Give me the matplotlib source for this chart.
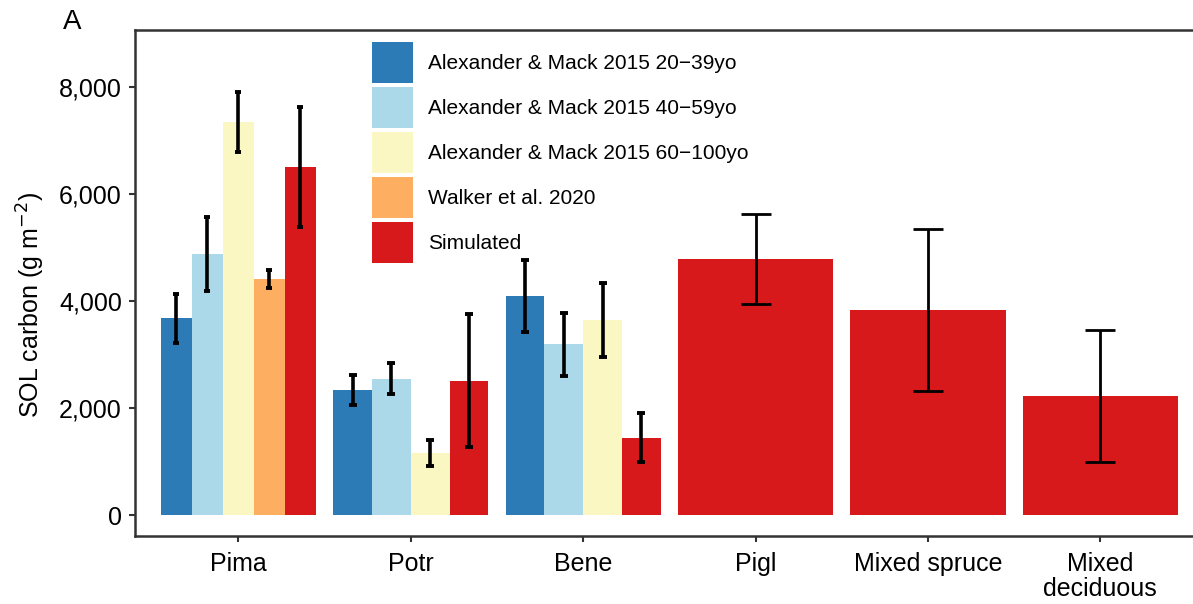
import matplotlib
matplotlib.use("Agg")
import matplotlib.pyplot as plt
from matplotlib.patches import Patch
import numpy as np

plt.rcParams["font.family"] = ["Liberation Sans", "DejaVu Sans"]

categories = ["Pima", "Potr", "Bene", "Pigl", "Mixed spruce", "Mixed\ndeciduous"]

series_names = [
    "Alexander & Mack 2015 20\u221239yo",
    "Alexander & Mack 2015 40\u221259yo",
    "Alexander & Mack 2015 60\u2212100yo",
    "Walker et al. 2020",
    "Simulated",
]
series_colors = ["#2C7BB6", "#ABD9E9", "#FAF7C2", "#FDAE61", "#D7191C"]

nan = np.nan
am_20_39 = [3680, 2336, 4100, nan, nan, nan]
am_20_39_err = [460, 280, 670, nan, nan, nan]
am_40_59 = [4880, 2548, 3190, nan, nan, nan]
am_40_59_err = [690, 284, 585, nan, nan, nan]
am_60_100 = [7350, 1159, 3645, nan, nan, nan]
am_60_100_err = [560, 240, 692, nan, nan, nan]
walker = [4410, nan, nan, nan, nan, nan]
walker_err = [170, nan, nan, nan, nan, nan]
simulated = [6500, 2511, 1445, 4779, 3832, 2224]
simulated_err = [1125, 1240, 458, 844, 1505, 1225]

values = [am_20_39, am_40_59, am_60_100, walker, simulated]
errors = [am_20_39_err, am_40_59_err, am_60_100_err, walker_err, simulated_err]

W, H = 1193, 604
fig = plt.figure(figsize=(W / 100, H / 100), dpi=100)
ax = fig.add_axes([135 / W, 1 - 536 / H, 1 - 135 / W + 0.01, (536 - 30) / H])

# ggplot-style dodge: each category splits 0.9 among the series it has
dodge = 0.9
for ci in range(len(categories)):
    present = [si for si in range(len(values)) if not np.isnan(values[si][ci])]
    n = len(present)
    bw = dodge / n
    single = n == 1
    for k, si in enumerate(present):
        xc = (ci + 1) - dodge / 2 + bw * (k + 0.5)
        ax.bar(xc, values[si][ci], width=bw, color=series_colors[si], linewidth=0, zorder=2)
        ax.errorbar(
            xc, values[si][ci], yerr=errors[si][ci], fmt="none", ecolor="black",
            elinewidth=2.0 if single else 2.6, capthick=2.0 if single else 2.8,
            capsize=(0.2 * bw * 172 / 2) / 1.389, zorder=3,
        )

ax.set_xlim(0.4, 6 + (W - 1099) / 172 + 0.06)
ax.set_ylim(-392, 9065)
ax.set_xticks(range(1, len(categories) + 1))
ax.set_xticklabels(categories, fontsize=18, linespacing=1.05)
ax.set_yticks([0, 2000, 4000, 6000, 8000])
ax.set_yticklabels(["0", "2,000", "4,000", "6,000", "8,000"], fontsize=18)
ax.tick_params(axis="both", length=4.5, width=1.5, color="#333333")
ax.tick_params(axis="y", pad=5)
ax.tick_params(axis="x", pad=7)

for side in ["left", "bottom", "top"]:
    ax.spines[side].set_linewidth(1.8)
    ax.spines[side].set_color("#333333")
ax.spines["right"].set_visible(False)

ax.set_ylabel("SOL carbon (g m$^{-2}$)", fontsize=18)
ax.yaxis.set_label_coords(-0.082, 0.4565)
fig.text(63 / W, 1 - 29 / H, "A", fontsize=20)

handles = [Patch(facecolor=c, edgecolor="none") for c in series_colors]
fig.legend(
    handles, series_names, loc="upper left",
    bbox_to_anchor=(372 / W, 1 - 42 / H), bbox_transform=fig.transFigure,
    frameon=False, fontsize=15, borderpad=0, borderaxespad=0,
    handlelength=1.97, handleheight=2.654, handletextpad=0.72, labelspacing=0.19,
)

fig.savefig("out.png", dpi=100)
